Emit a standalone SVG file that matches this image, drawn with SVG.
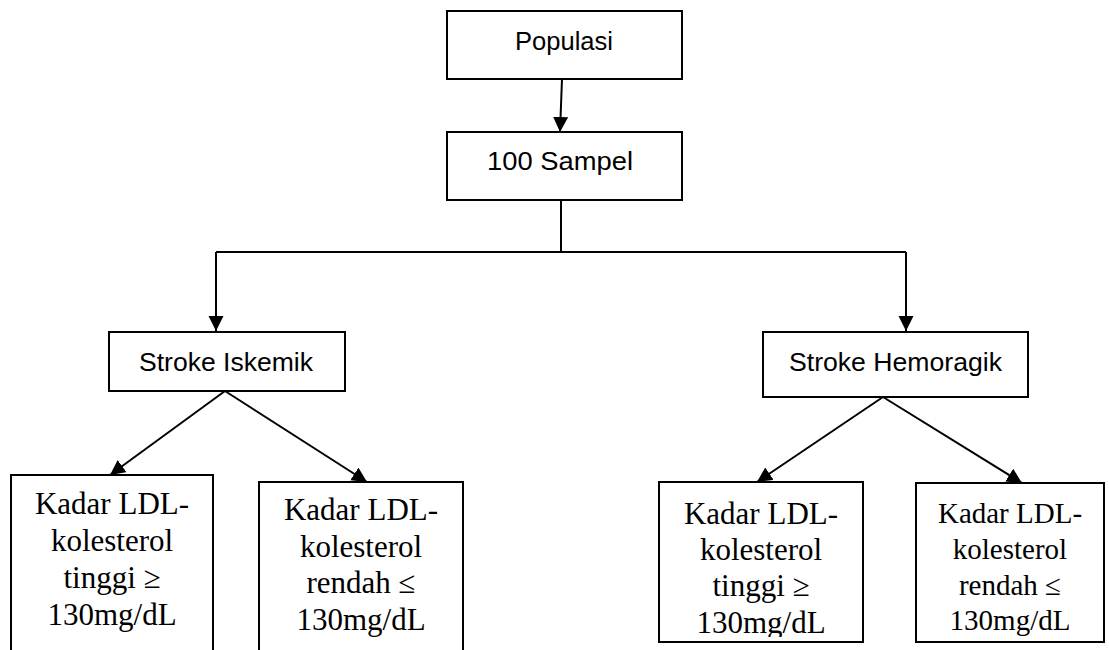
<svg xmlns="http://www.w3.org/2000/svg" width="1109" height="650" viewBox="0 0 1109 650">
<style>
.box{fill:#fff;stroke:#000;stroke-width:2}
.ln{fill:none;stroke:#000;stroke-width:2}
.sans{font-family:"Liberation Sans",Arial,sans-serif;font-size:26px;fill:#000;text-anchor:middle}
.serif{font-family:"Liberation Serif","Times New Roman",serif;font-size:31px;fill:#000;text-anchor:middle}
.serif.sm{font-size:29px}
</style>
<defs>
<marker id="ah" markerUnits="userSpaceOnUse" markerWidth="16" markerHeight="16" refX="15" refY="7.5" orient="auto">
<path d="M0,0 L15,7.5 L0,15 Z" fill="#000"/>
</marker>
<clipPath id="c3"><rect x="660" y="483" width="202" height="154"/></clipPath>
</defs>
<rect width="1109" height="650" fill="#fff"/>
<g id="connectors">
<line class="ln" x1="562" y1="79" x2="560" y2="132" marker-end="url(#ah)"/>
<polyline class="ln" points="561,200 561,252"/>
<polyline class="ln" points="216,252 906,252"/>
<line class="ln" x1="216" y1="252" x2="216" y2="331" marker-end="url(#ah)"/>
<line class="ln" x1="906" y1="252" x2="906" y2="331" marker-end="url(#ah)"/>
<line class="ln" x1="225" y1="391" x2="110" y2="475" marker-end="url(#ah)"/>
<line class="ln" x1="225" y1="391" x2="367" y2="482" marker-end="url(#ah)"/>
<line class="ln" x1="883" y1="397" x2="757" y2="482" marker-end="url(#ah)"/>
<line class="ln" x1="883" y1="397" x2="1022" y2="483" marker-end="url(#ah)"/>
</g>
<g id="populasi">
<rect class="box" x="447" y="11" width="235" height="68"/>
<text class="sans" x="564" y="50" textLength="98" lengthAdjust="spacingAndGlyphs">Populasi</text>
</g>
<g id="sampel">
<rect class="box" x="447" y="132" width="235" height="68"/>
<text class="sans" x="560" y="170" textLength="146" lengthAdjust="spacingAndGlyphs">100 Sampel</text>
</g>
<g id="iskemik">
<rect class="box" x="109" y="332" width="236" height="59"/>
<text class="sans" x="226" y="371" textLength="174" lengthAdjust="spacingAndGlyphs">Stroke Iskemik</text>
</g>
<g id="hemoragik">
<rect class="box" x="763" y="332" width="265" height="65"/>
<text class="sans" x="895.5" y="371" textLength="213" lengthAdjust="spacingAndGlyphs">Stroke Hemoragik</text>
</g>
<g id="isk-tinggi">
<rect class="box" x="11" y="475" width="202" height="190"/>
<text class="serif" x="112" y="514">Kadar LDL-</text>
<text class="serif" x="112" y="551">kolesterol</text>
<text class="serif" x="112" y="588">tinggi ≥</text>
<text class="serif" x="112" y="625">130mg/dL</text>
</g>
<g id="isk-rendah">
<rect class="box" x="259" y="482" width="204" height="190"/>
<text class="serif" x="361" y="520">Kadar LDL-</text>
<text class="serif" x="361" y="557">kolesterol</text>
<text class="serif" x="361" y="593">rendah ≤</text>
<text class="serif" x="361" y="630">130mg/dL</text>
</g>
<g id="hem-tinggi">
<rect class="box" x="659" y="482" width="204" height="160"/>
<g clip-path="url(#c3)">
<text class="serif" x="761" y="524">Kadar LDL-</text>
<text class="serif" x="761" y="560">kolesterol</text>
<text class="serif" x="761" y="596">tinggi ≥</text>
<text class="serif" x="761" y="633">130mg/dL</text>
</g>
</g>
<g id="hem-rendah">
<rect class="box" x="916" y="483" width="188" height="159"/>
<text class="serif sm" x="1010" y="523">Kadar LDL-</text>
<text class="serif sm" x="1010" y="559">kolesterol</text>
<text class="serif sm" x="1010" y="595">rendah ≤</text>
<text class="serif sm" x="1010" y="630">130mg/dL</text>
</g>
</svg>
